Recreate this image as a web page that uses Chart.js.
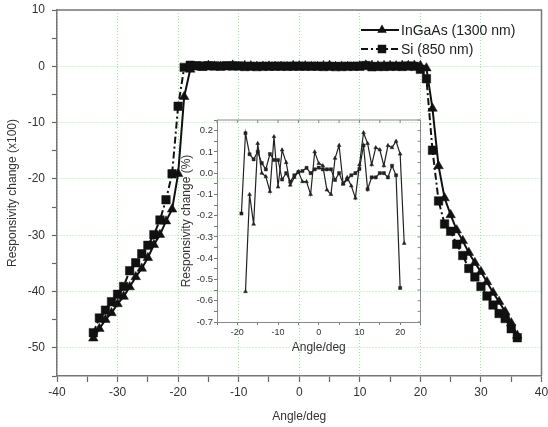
<!DOCTYPE html>
<html>
<head>
<meta charset="utf-8">
<script src="https://cdn.jsdelivr.net/npm/chart.js@4.4.1/dist/chart.umd.min.js"></script>
<style>
  html, body { margin: 0; padding: 0; background: #fff; }
  #wrap { position: relative; width: 548px; height: 427px; }
  #main { position: absolute; left: 0; top: 0; }
  #inset { position: absolute; left: 170px; top: 115px; }
</style>
</head>
<body>
<div id="wrap">
  <canvas id="main" width="548" height="427"></canvas>
  <canvas id="inset" width="255" height="245"></canvas>
</div>
<script>
// outer flanks of the main plot (x100)
const ingaasLeftAngle = [-34, -33, -32, -31, -30, -29, -28, -27, -26, -25, -24, -23, -22, -21, -20, -19];
const ingaasLeft = [-48.3, -46.6, -45.0, -43.8, -42.2, -40.9, -39.2, -37.4, -35.9, -34.0, -31.7, -29.9, -27.5, -25.4, -19.1, -5.4];
const ingaasRightAngle = [22, 23, 24, 25, 26, 27, 28, 29, 30, 31, 32, 33, 34, 35, 36];
const ingaasRight = [-7.5, -17.7, -23.4, -26.4, -29.1, -31.0, -33.1, -34.9, -36.5, -38.3, -40.2, -41.8, -43.6, -45.6, -47.8];

const siLeftAngle = [-34, -33, -32, -31, -30, -29, -28, -27, -26, -25, -24, -23, -22, -21, -20];
const siLeft = [-47.3, -44.7, -43.3, -41.8, -40.5, -39.1, -36.3, -34.9, -33.3, -31.8, -29.9, -27.3, -23.7, -19.1, -7.1];
const siRightAngle = [21, 22, 23, 24, 25, 26, 27, 28, 29, 30, 31, 32, 33, 34, 35, 36];
const siRight = [-2.2, -14.9, -23.9, -28.0, -29.3, -31.6, -33.6, -35.9, -37.4, -39.1, -40.8, -42.4, -43.9, -44.8, -46.6, -48.2];

// flat top, shown in detail in the inset (%)
const ingaasFlatAngle = [-18, -17, -16, -15, -14, -13, -12, -11, -10, -9, -8, -7, -6, -5, -4, -3, -2, -1, 0, 1,
  2, 3, 4, 5, 6, 7, 8, 9, 10, 11, 12, 13, 14, 15, 16, 17, 18, 19, 20, 21];
const ingaasFlat = [-0.557, -0.10, -0.24, 0.14, 0.0, -0.016, -0.086, 0.172, -0.065, 0.109, 0.05, -0.056, -0.02, 0.007, -0.04, -0.04, -0.10, 0.10, 0.046, 0.035,
  -0.079, -0.10, 0.07, 0.13, -0.05, -0.02, -0.06, -0.117, 0.04, 0.19, 0.14, 0.04, 0.12, 0.11, 0.035, 0.13, 0.12, 0.15, 0.09, -0.33];
const siFlatAngle = [-19, -18, -17, -16, -15, -14, -13, -12, -11, -10, -9, -8, -7, -6, -5, -4, -3, -2, -1, 0,
  1, 2, 3, 4, 5, 6, 7, 8, 9, 10, 11, 12, 13, 14, 15, 16, 17, 18, 19, 20];
const siFlat = [-0.19, 0.188, 0.089, 0.065, 0.101, 0.047, 0.018, 0.09, 0.062, 0.062, -0.03, 0.0, -0.04, -0.01, 0.005, 0.01, 0.025, 0.0, 0.018, 0.026,
  0.018, 0.018, 0.018, -0.032, 0.0, -0.05, -0.03, -0.01, 0.0, 0.02, 0.13, -0.076, -0.02, -0.02, 0.0, 0.0, -0.02, 0.035, -0.01, -0.54];

const seriesNames = ['InGaAs (1300 nm)', 'Si (850 nm)'];

const pts = (xs, ys) => xs.map((x, i) => ({ x: x, y: ys[i] }));

Chart.defaults.font.family = '"Liberation Sans", Arial, sans-serif';
Chart.defaults.color = '#333';

const ink = '#111';
const siDash = [7, 3, 2, 3];

const majorGrid = ctx => (ctx.tick && ctx.tick.value % 10 === 0) ? '#9fe89f' : 'rgba(0,0,0,0)';
const tenOnly = v => (v % 10 === 0 ? String(v) : '');

function marker(ctx, style, x, y, r) {
  ctx.beginPath();
  if (style === 'triangle') {
    ctx.moveTo(x, y - r);
    ctx.lineTo(x + r * 0.866, y + r * 0.5);
    ctx.lineTo(x - r * 0.866, y + r * 0.5);
    ctx.closePath();
  } else {
    const s = r * 0.707;
    ctx.rect(x - s, y - s, 2 * s, 2 * s);
  }
  ctx.fill();
}

// top/right frame and the legend box in the top right corner
const mainDecor = {
  id: 'mainDecor',
  afterDraw(chart) {
    const { ctx, chartArea: a } = chart;
    ctx.save();
    ctx.strokeStyle = '#777';
    ctx.lineWidth = 1.5;
    ctx.beginPath();
    ctx.moveTo(a.left, a.top);
    ctx.lineTo(a.right, a.top);
    ctx.lineTo(a.right, a.bottom);
    ctx.stroke();

    const rows = [
      { label: seriesNames[0], style: 'triangle', dash: [], y: 30 },
      { label: seriesNames[1], style: 'rect', dash: siDash, y: 49 }
    ];
    ctx.font = '14px "Liberation Sans", Arial, sans-serif';
    ctx.textBaseline = 'middle';
    rows.forEach(r => {
      ctx.strokeStyle = ink;
      ctx.fillStyle = ink;
      ctx.lineWidth = 2;
      ctx.setLineDash(r.dash);
      ctx.beginPath();
      ctx.moveTo(361, r.y);
      ctx.lineTo(399, r.y);
      ctx.stroke();
      ctx.setLineDash([]);
      marker(ctx, r.style, 382, r.y, r.style === 'rect' ? 6 : 5.5);
      ctx.fillStyle = '#222';
      ctx.fillText(r.label, 401, r.y + 1);
    });
    ctx.restore();
  }
};

new Chart(document.getElementById('main'), {
  type: 'scatter',
  data: {
    datasets: [
      {
        label: seriesNames[0],
        data: [...pts(ingaasLeftAngle, ingaasLeft), ...pts(ingaasFlatAngle, ingaasFlat), ...pts(ingaasRightAngle, ingaasRight)],
        showLine: true,
        borderColor: ink,
        backgroundColor: ink,
        borderWidth: 2,
        pointStyle: 'triangle',
        pointRadius: 5.5,
        pointBorderWidth: 0.5
      },
      {
        label: seriesNames[1],
        data: [...pts(siLeftAngle, siLeft), ...pts(siFlatAngle, siFlat), ...pts(siRightAngle, siRight)],
        showLine: true,
        borderColor: ink,
        backgroundColor: ink,
        borderWidth: 2,
        borderDash: siDash,
        pointStyle: 'rect',
        pointRadius: 6,
        pointBorderWidth: 0.5
      }
    ]
  },
  options: {
    responsive: false,
    animation: false,
    layout: { padding: { top: 10, right: 5, left: 0, bottom: 0 } },
    plugins: { legend: { display: false }, tooltip: { enabled: false } },
    scales: {
      x: {
        type: 'linear',
        min: -40,
        max: 40,
        ticks: { stepSize: 5, autoSkip: false, maxRotation: 0, padding: 3, font: { size: 12 }, callback: tenOnly },
        grid: { color: majorGrid, lineWidth: 1, tickLength: 6, tickColor: '#666', tickWidth: 1.2, tickBorderDash: [] },
        border: { color: '#777', width: 1.5, dash: [1, 2] },
        title: { display: true, text: 'Angle/deg', font: { size: 12 }, padding: { top: 0, bottom: 3 } },
        afterFit(s) { s.height = 51; s.paddingLeft = 0; s.paddingRight = 0; }
      },
      y: {
        min: -55,
        max: 10,
        ticks: { stepSize: 5, autoSkip: false, padding: 7, font: { size: 12 }, callback: tenOnly },
        grid: { color: majorGrid, lineWidth: 1, tickLength: 5, tickColor: '#666', tickWidth: 1.2, tickBorderDash: [] },
        border: { color: '#777', width: 1.5, dash: [1, 2] },
        title: { display: true, text: 'Responsivity change (x100)', font: { size: 12 }, padding: { top: 5, bottom: 0 } },
        afterFit(s) { s.width = 57; s.paddingTop = 0; s.paddingBottom = 0; }
      }
    }
  },
  plugins: [mainDecor]
});

// inset frame: top and right edges with inward ticks
const insetFrame = {
  id: 'insetFrame',
  afterDraw(chart) {
    const { ctx, chartArea: a, scales: { x, y } } = chart;
    ctx.save();
    ctx.strokeStyle = '#888';
    ctx.lineWidth = 1;
    ctx.beginPath();
    ctx.moveTo(a.left, a.top);
    ctx.lineTo(a.right, a.top);
    ctx.lineTo(a.right, a.bottom);
    x.ticks.forEach(t => {
      const px = x.getPixelForValue(t.value);
      ctx.moveTo(px, a.top);
      ctx.lineTo(px, a.top + 3);
    });
    y.ticks.forEach(t => {
      const py = y.getPixelForValue(t.value);
      ctx.moveTo(a.right, py);
      ctx.lineTo(a.right - 3, py);
    });
    ctx.stroke();
    ctx.restore();
  }
};

new Chart(document.getElementById('inset'), {
  type: 'scatter',
  data: {
    datasets: [
      {
        label: seriesNames[0],
        data: pts(ingaasFlatAngle, ingaasFlat),
        showLine: true,
        borderColor: '#222',
        backgroundColor: '#222',
        borderWidth: 1.2,
        pointStyle: 'triangle',
        pointRadius: 2.2,
        pointBorderWidth: 0.5
      },
      {
        label: seriesNames[1],
        data: pts(siFlatAngle, siFlat),
        showLine: true,
        borderColor: '#222',
        backgroundColor: '#222',
        borderWidth: 1.2,
        pointStyle: 'rect',
        pointRadius: 2.2,
        pointBorderWidth: 0.5
      }
    ]
  },
  options: {
    responsive: false,
    animation: false,
    layout: { padding: { top: 5, right: 4, left: 0, bottom: 0 } },
    plugins: { legend: { display: false }, tooltip: { enabled: false } },
    scales: {
      x: {
        type: 'linear',
        min: -25,
        max: 25,
        ticks: { stepSize: 5, autoSkip: false, maxRotation: 0, padding: 2, font: { size: 9 }, callback: tenOnly },
        grid: { drawOnChartArea: false, tickLength: 3, tickColor: '#777', tickWidth: 1 },
        border: { color: '#888', width: 1 },
        title: { display: true, text: 'Angle/deg', font: { size: 12 }, padding: { top: 0, bottom: 5 } },
        afterFit(s) { s.height = 38; s.paddingLeft = 0; s.paddingRight = 0; }
      },
      y: {
        min: -0.7,
        max: 0.25,
        ticks: {
          stepSize: 0.05, autoSkip: false, padding: 1, font: { size: 9.5 },
          callback: v => (Math.round(v * 100) % 10 === 0 ? (Math.round(v * 10) / 10).toFixed(1) : '')
        },
        grid: { drawOnChartArea: false, tickLength: 3, tickColor: '#777', tickWidth: 1 },
        border: { color: '#888', width: 1 },
        title: { display: true, text: 'Responsivity change (%)', font: { size: 12 }, padding: { top: 9, bottom: 0 } },
        afterFit(s) { s.width = 47; s.paddingTop = 0; s.paddingBottom = 0; }
      }
    }
  },
  plugins: [insetFrame]
});
</script>
</body>
</html>
